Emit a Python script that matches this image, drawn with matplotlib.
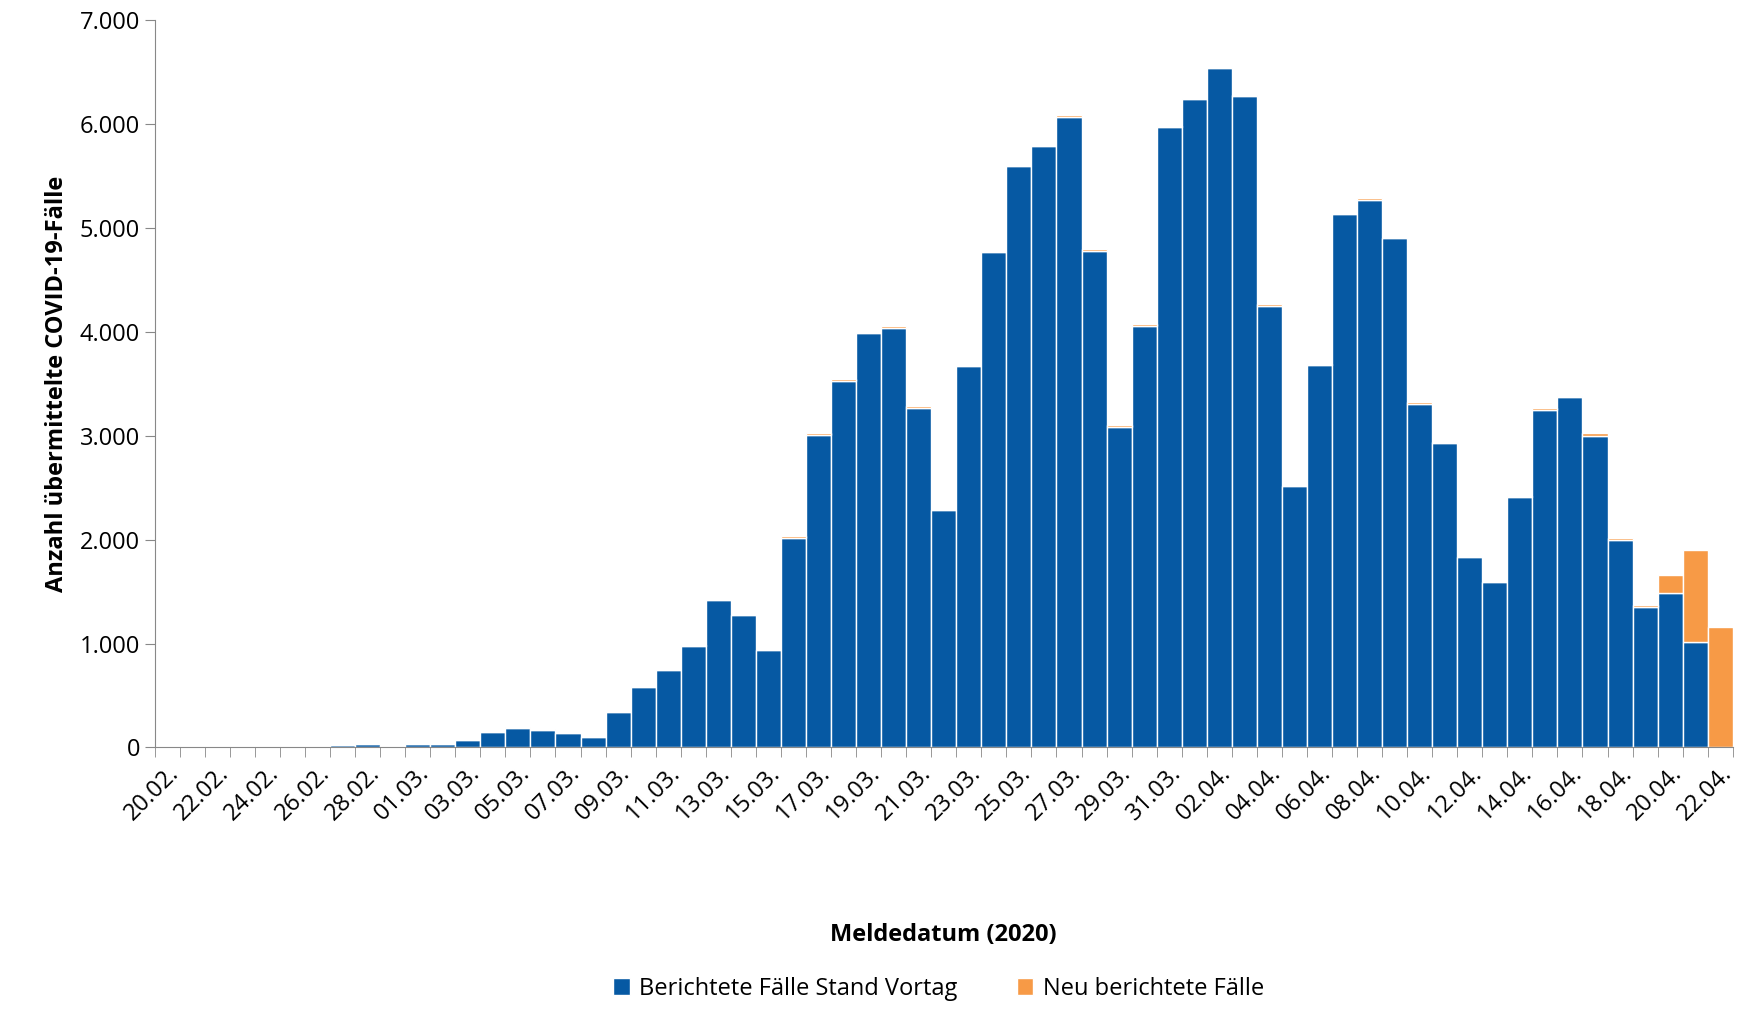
import datetime as dt
import matplotlib
matplotlib.use("Agg")
import matplotlib.pyplot as plt
import numpy as np
from matplotlib.ticker import FuncFormatter

plt.rcParams["font.family"] = ["Open Sans", "DejaVu Sans"]

BLUE = "#0659A3"
ORANGE = "#F79A46"

start = dt.date(2020, 2, 20)
# reported cases as of previous day
vortag = [15, 0, 15, 15, 15, 15, 15, 25, 35,
          15, 35, 35, 75, 145, 185, 170, 135, 100, 345, 580, 745, 975, 1420, 1280, 940,
          2020, 3010, 3530, 3990, 4040, 3270, 2290, 3670, 4770, 5600, 5790, 6070, 4780,
          3090, 4060, 5970, 6240,
          6540, 6270, 4250, 2520, 3680, 5140, 5270, 4900, 3310, 2930, 1830, 1590, 2410,
          3250, 3370, 3000, 2000, 1350, 1490, 1020, 0]
neu = [0] * 63
neu[14] = 10; neu[15] = 10; neu[21] = 10
neu[25] = 15; neu[26] = 15; neu[27] = 15; neu[29] = 15; neu[30] = 15
neu[36] = 15; neu[37] = 15; neu[38] = 15; neu[39] = 15; neu[40] = 15
neu[43] = 15; neu[44] = 15; neu[46] = 15; neu[48] = 15; neu[50] = 15; neu[51] = 15
neu[54] = 15; neu[55] = 15; neu[56] = 15; neu[57] = 30; neu[58] = 15
neu[59] = 25; neu[60] = 170; neu[61] = 880; neu[62] = 1160

dates = [start + dt.timedelta(days=i) for i in range(len(vortag))]
labels = [d.strftime("%d.%m.") for d in dates]
x = np.arange(len(vortag))

fig = plt.figure(figsize=(17.38, 10.17), dpi=100)
ax = fig.add_axes([0.089, 0.265, 0.908, 0.715])

ax.bar(x, vortag, width=1.0, color=BLUE, edgecolor="white", linewidth=1.0,
       label="Berichtete Fälle Stand Vortag")
ax.bar(x, neu, bottom=vortag, width=1.0, color=ORANGE, edgecolor="white", linewidth=1.0,
       label="Neu berichtete Fälle")

ax.set_xlim(-0.5, len(x) - 0.5)
ax.set_ylim(0, 7000)
ax.set_yticks(range(0, 7001, 1000))
ax.yaxis.set_major_formatter(FuncFormatter(lambda v, p: f"{int(v):,}".replace(",", ".")))
ax.set_xticks(x[::2])
ax.set_xticklabels(labels[::2], rotation=45, ha="right", rotation_mode="anchor", fontsize=17)
ax.set_xticks(np.arange(-0.5, len(x), 1), minor=True)
ax.tick_params(axis="x", which="major", length=0, pad=10)
ax.tick_params(axis="x", which="minor", length=7, color="#888888")
ax.tick_params(axis="y", labelsize=17, length=7, color="#888888")
for s in ("top", "right"):
    ax.spines[s].set_visible(False)
for s in ("left", "bottom"):
    ax.spines[s].set_color("#888888")

ax.set_ylabel("Anzahl übermittelte COVID-19-Fälle", fontsize=17, fontweight="bold", labelpad=8)
ax.set_xlabel("Meldedatum (2020)", fontsize=17, fontweight="bold", labelpad=70)

fig.legend(loc="lower center", bbox_to_anchor=(0.54, -0.005), ncol=2, frameon=False,
           fontsize=17, handlelength=0.7, handleheight=0.7, handletextpad=0.4,
           columnspacing=2.5)

fig.savefig("out.png", dpi=100)
